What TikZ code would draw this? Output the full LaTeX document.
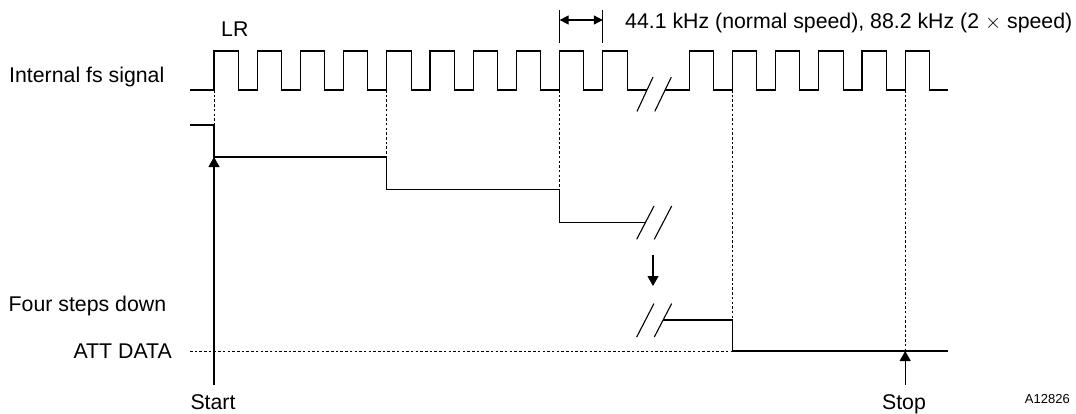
\documentclass[tikz,border=0pt]{standalone}
\usepackage{fontspec}
\setmainfont{Liberation Sans}
\usetikzlibrary{arrows.meta}
\begin{document}
\begin{tikzpicture}[x=1pt,y=-1pt,
  sig/.style={line width=1.1pt, line join=miter},
  dots/.style={line width=1pt, dash pattern=on 2.5pt off 2.2pt},
  lbl/.style={inner sep=0pt, font=\fontsize{21.3}{24}\selectfont},
  small/.style={inner sep=0pt, font=\fontsize{13}{15}\selectfont},
  tip/.style={-{Triangle[length=10pt,width=11pt]}, line width=1.1pt},
  dim/.style={{Triangle[length=9pt,width=9pt]}-{Triangle[length=9pt,width=9pt]}, line width=1.1pt}]
\useasboundingbox (0,0) rectangle (1076,413);

% clock signal
\draw[sig] (190,90) foreach \k in {0,...,9} { -- ({214+43.2*\k},90) -- ({214+43.2*\k},51) -- ({238.3+43.2*\k},51) -- ({238.3+43.2*\k},90) } -- (647,90);
\draw[sig] (665,90) foreach \k in {11,...,16} { -- ({214+43.2*\k},90) -- ({214+43.2*\k},51) -- ({238.3+43.2*\k},51) -- ({238.3+43.2*\k},90) } -- (948,90);
\draw[sig] (637,111.4) -- (653,77.1);
\draw[sig] (654.8,111.4) -- (671.3,77.1);

% named points
\coordinate (c0) at (214,90);
\coordinate (c4) at (386.8,90);
\coordinate (c8) at (559.6,90);
\coordinate (c12) at (732.4,90);
\coordinate (c16) at (905.2,90);
\coordinate (s0) at (214,157);
\coordinate (s4) at (386.8,189.5);
\coordinate (s8) at (559.6,222.3);
\coordinate (s12) at (732.4,320);
\coordinate (s16) at (905.2,351);
\coordinate (pre) at (214,125);

% step signal
\draw[sig] (190,125) -- (pre) -- (s0) -- (386.8,157) -- (s4) -- (559.6,189.5) -- (s8) -- (645.5,222.3);
\draw[sig] (636.7,239.3) -- (654,206);
\draw[sig] (654.3,239.3) -- (671.7,206);
\draw[sig] (636.7,337) -- (654,303.5);
\draw[sig] (654.3,337) -- (671.7,303.5);
\draw[sig] (663,320) -- (s12) -- (732.4,351) -- (948,351);

% dotted guides
\draw[dots] (c0) -- (pre);
\draw[dots] (c4) -- (386.8,157);
\draw[dots] (c8) -- (559.6,189.5);
\draw[dots] (c12) -- (s12);
\draw[dots] (c16) -- (s16);
\coordinate (attL) at (190,351);
\coordinate (attR) at (732.4,351);
\draw[dots] (attL) -- (attR);

% arrows
\coordinate (startB) at (214,385);
\coordinate (stopB) at (905.2,385);
\draw[tip] (startB) -- (s0);
\draw[tip] (stopB) -- (s16);
\coordinate (dnA) at (653,255);
\coordinate (dnB) at (653,286);
\draw[tip] (dnA) -- (dnB);

% period dimension
\coordinate (t1a) at (559.6,10);
\coordinate (t1b) at (559.6,43);
\coordinate (t2a) at (602.8,10);
\coordinate (t2b) at (602.8,43);
\draw[sig] (t1a) -- (t1b);
\draw[sig] (t2a) -- (t2b);
\draw[dim] (559.6,20) -- (602.8,20);

% labels
\node[lbl, anchor=base west] (lr) at (221,36.5) {LR};
\node[lbl, anchor=base west] (fs) at (9,82) {Internal fs signal};
\node[lbl, anchor=base west] (fsd) at (625,28) {44.1 kHz (normal speed), 88.2 kHz (2 $\times$ speed)};
\node[lbl, anchor=base west] (four) at (8.5,311.7) {Four steps down};
\node[lbl, anchor=base east] (att) at (172,358) {ATT DATA};
\node[lbl, anchor=base] (start) at (213,409.5) {Start};
\node[lbl, anchor=base] (stop) at (904,409.5) {Stop};
\node[small, anchor=base east] (code) at (1070,403) {A12826};
\end{tikzpicture}
\end{document}
